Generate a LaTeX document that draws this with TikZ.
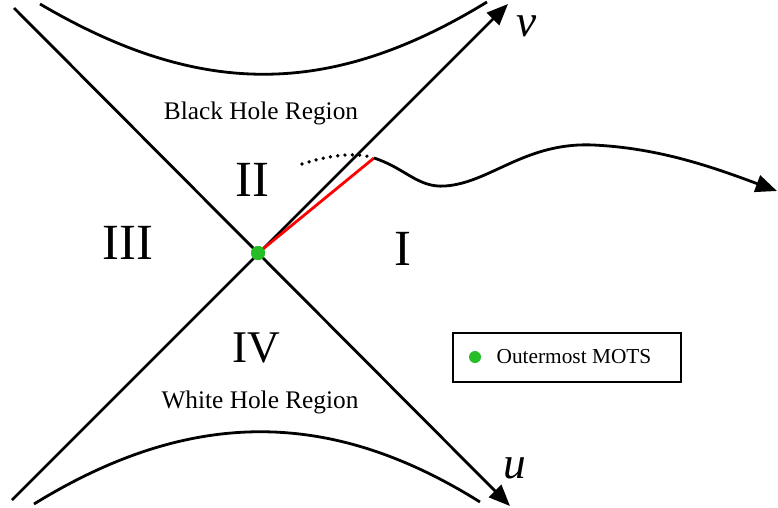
\documentclass[tikz,border=0pt]{standalone}
\usepackage{fontspec}
\setmainfont{Liberation Serif}
\usetikzlibrary{positioning,arrows.meta}

\begin{document}
\begin{tikzpicture}[
  x=0.75pt, y=-0.75pt,
  axis/.style={-{Triangle[length=16pt,width=13pt]}, line width=2.1pt},
  horizon/.style={line width=2.1pt},
  region/.style={font=\fontsize{38}{40}\selectfont},
  label/.style={font=\fontsize{19}{22}\selectfont},
  coordname/.style={font=\fontsize{34}{36}\selectfont\itshape, inner sep=0pt},
  mots/.style={circle, fill=green!70!black!85, inner sep=0pt, minimum size=10.5pt}
]
\useasboundingbox (0,0) rectangle (778,507);

% null axes
\coordinate (ustart) at (14,8);
\coordinate (uend) at (510,506);
\coordinate (vstart) at (12,500);
\coordinate (vend) at (508,4);
\draw[axis] (ustart) -- (uend);
\draw[axis] (vstart) -- (vend);

% singularities
\coordinate (topl) at (40,4);
\coordinate (topr) at (487,2);
\coordinate (botl) at (34,504);
\coordinate (botr) at (480,502);
\draw[horizon] (topl) .. controls (200,98) and (330,98) .. (topr);
\draw[horizon] (botl) .. controls (190,408) and (330,408) .. (botr);

% trajectory
\coordinate (bend) at (374,158);
\coordinate (far) at (777,191);
\coordinate (dotstart) at (302,164);
\node[mots] (center) at (258,253) {};
\draw[red, line width=2.1pt] (center) -- (bend);
\draw[line width=2.8pt, line cap=round, dash pattern=on 0pt off 5.5pt] (dotstart) .. controls (330,155) and (355,152) .. (bend);
\draw[axis] (bend) .. controls (405,168) and (418,188) .. (445,186)
  .. controls (490,183) and (525,142) .. (593,145)
  .. controls (660,148) and (715,168) .. (far);
\node[mots] at (center) {};

% labels
\node[region] (rI) at (403,249) {I};
\node[region] (rII) at (252,180) {II};
\node[region] (rIII) at (128,243) {III};
\node[region, font=\fontsize{34}{36}\selectfont] (rIV) at (256,348) {IV};
\node[label] (bh) at (261,113) {Black Hole Region};
\node[label] (wh) at (260,402) {White Hole Region};
\node[coordname] (vlab) at (527,26) {v};
\node[coordname] (ulab) at (515,468) {u};

% legend
\node[draw, line width=1.4pt, minimum width=171pt, minimum height=37pt] (legend) at (567,357.5) {};
\node[mots, minimum size=9pt] (legdot) at (475,357) {};
\node[font=\fontsize{16}{18}\selectfont, anchor=west, right=8pt of legdot] (legtext) {Outermost MOTS};
\end{tikzpicture}
\end{document}
